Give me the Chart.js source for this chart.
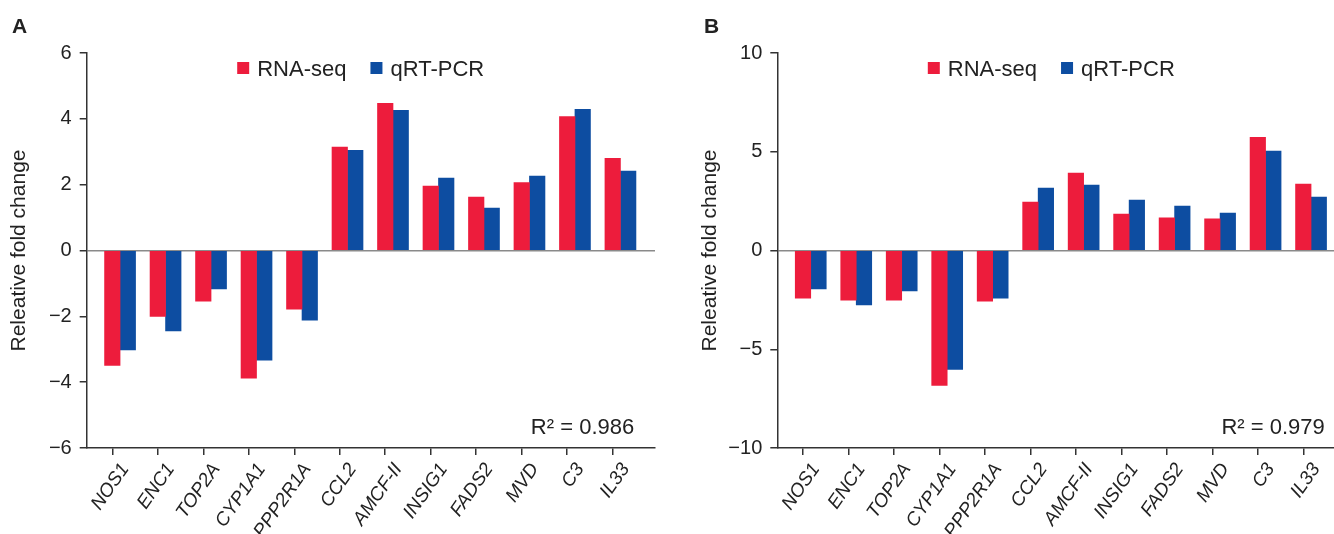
<!DOCTYPE html>
<html>
<head>
<meta charset="utf-8">
<script src="https://cdn.jsdelivr.net/npm/chart.js@4/dist/chart.umd.min.js"></script>
<style>
body { margin: 0; background: #fff; width: 1334px; height: 534px; overflow: hidden; position: relative; font-family: "Liberation Sans", Arial, sans-serif; }
.panel { position: absolute; top: 0; width: 667px; height: 534px; }
.tag { position: absolute; font-weight: bold; font-size: 21px; color: #222; line-height: 21px; }
</style>
</head>
<body>
<div class="panel" style="left:0"><canvas id="chart-a" width="667" height="534"></canvas></div>
<div class="panel" style="left:667px"><canvas id="chart-b" width="667" height="534"></canvas></div>
<div class="tag" style="left:12px;top:15px">A</div>
<div class="tag" style="left:704px;top:15px">B</div>
<script>
// 数据
const genes = ['NOS1', 'ENC1', 'TOP2A', 'CYP1A1', 'PPP2R1A', 'CCL2', 'AMCF-II', 'INSIG1', 'FADS2', 'MVD', 'C3', 'IL33'];
const rnaSeqA = [-3.49, -2.0, -1.54, -3.88, -1.78, 3.14, 4.47, 1.96, 1.62, 2.06, 4.07, 2.8];
const qpcrA = [-3.02, -2.44, -1.17, -3.33, -2.12, 3.04, 4.26, 2.2, 1.29, 2.26, 4.29, 2.41];
const rnaSeqB = [-2.41, -2.51, -2.51, -6.83, -2.56, 2.45, 3.92, 1.85, 1.65, 1.6, 5.73, 3.36];
const qpcrB = [-1.95, -2.76, -2.05, -6.02, -2.41, 3.16, 3.31, 2.55, 2.25, 1.9, 5.03, 2.71];
const yTicksA = [-6, -4, -2, 0, 2, 4, 6];
const yTicksB = [-10, -5, 0, 5, 10];
const r2A = '0.986';
const r2B = '0.979';

const RED = '#ED1C3C';
const BLUE = '#0D4DA1';
const INK = '#222';
const FONT = '"Liberation Sans", Arial, sans-serif';

Chart.defaults.font.family = FONT;
Chart.defaults.color = INK;

// 图例和R²文字
const overlayPlugin = {
    id: 'overlay',
    afterDraw(chart, args, opts) {
        const ctx = chart.ctx;
        const area = chart.chartArea;
        ctx.save();
        ctx.font = '22px ' + FONT;
        ctx.textBaseline = 'alphabetic';
        ctx.textAlign = 'left';
        let x = area.left + 150.5;
        chart.data.datasets.filter(ds => ds.label).forEach(ds => {
            ctx.fillStyle = ds.backgroundColor;
            ctx.fillRect(x, 62, 12, 12);
            ctx.fillStyle = INK;
            ctx.fillText(ds.label, x + 20, 76);
            x += 20 + ctx.measureText(ds.label).width + 24;
        });
        ctx.textAlign = 'right';
        ctx.fillText('R\u00B2 = ' + opts.r2, area.left + 547.5, 434);
        ctx.restore();
    }
};

function makeChart(id, rna, qpcr, yTicks, r2, yWidth, titlePad, xMin, xMax, padRight) {
    const ctx = document.getElementById(id).getContext('2d');
    return new Chart(ctx, {
        type: 'bar',
        data: {
            datasets: [
                { label: '', data: genes.map((g, i) => ({ x: i, y: null })), backgroundColor: 'rgba(0,0,0,0)' },
                { label: 'RNA-seq', data: genes.map((g, i) => ({ x: i, y: rna[i] })), backgroundColor: RED },
                { label: 'qRT-PCR', data: genes.map((g, i) => ({ x: i, y: qpcr[i] })), backgroundColor: BLUE }
            ]
        },
        options: {
            responsive: false,
            animation: false,
            devicePixelRatio: 1,
            barThickness: 15.5,
            layout: { padding: { top: 53, left: 0, right: padRight, bottom: 0 } },
            plugins: {
                legend: { display: false },
                tooltip: { enabled: false },
                overlay: { r2: r2 }
            },
            scales: {
                x: {
                    type: 'linear',
                    offset: false,
                    min: xMin,
                    max: xMax,
                    afterBuildTicks: scale => { scale.ticks = genes.map((g, i) => ({ value: i })); },
                    afterFit: scale => { scale.height = 86; },
                    grid: { offset: false, drawOnChartArea: false, tickLength: 7, tickColor: '#333', lineWidth: 1.5 },
                    border: { color: '#333', width: 1.5 },
                    ticks: {
                        autoSkip: false,
                        minRotation: 55,
                        maxRotation: 55,
                        padding: 4,
                        labelOffset: 13,
                        font: { size: 19, style: 'italic' },
                        callback: value => genes[value]
                    }
                },
                y: {
                    min: yTicks[0],
                    max: yTicks[yTicks.length - 1],
                    afterBuildTicks: scale => { scale.ticks = yTicks.map(v => ({ value: v })); },
                    afterFit: scale => { scale.width = yWidth; },
                    grid: {
                        color: c => (c.tick && c.tick.value === 0 ? '#8a8a8a' : 'rgba(0,0,0,0)'),
                        tickColor: '#333',
                        tickLength: 7,
                        lineWidth: 1.5
                    },
                    border: { color: '#333', width: 1.5 },
                    ticks: {
                        padding: 8,
                        font: { size: 20 },
                        callback: value => String(value).replace('-', '\u2212')
                    },
                    title: {
                        display: true,
                        text: 'Releative fold change',
                        font: { size: 21 },
                        color: INK,
                        padding: { top: titlePad, bottom: 0 }
                    }
                }
            }
        },
        plugins: [overlayPlugin]
    });
}

makeChart('chart-a', rnaSeqA, qpcrA, yTicksA, r2A, 86.7, 7, -0.563, 11.93, 12);
makeChart('chart-b', rnaSeqB, qpcrB, yTicksB, r2B, 110.3, 31, -0.565, 11.675, 0);
</script>
</body>
</html>
